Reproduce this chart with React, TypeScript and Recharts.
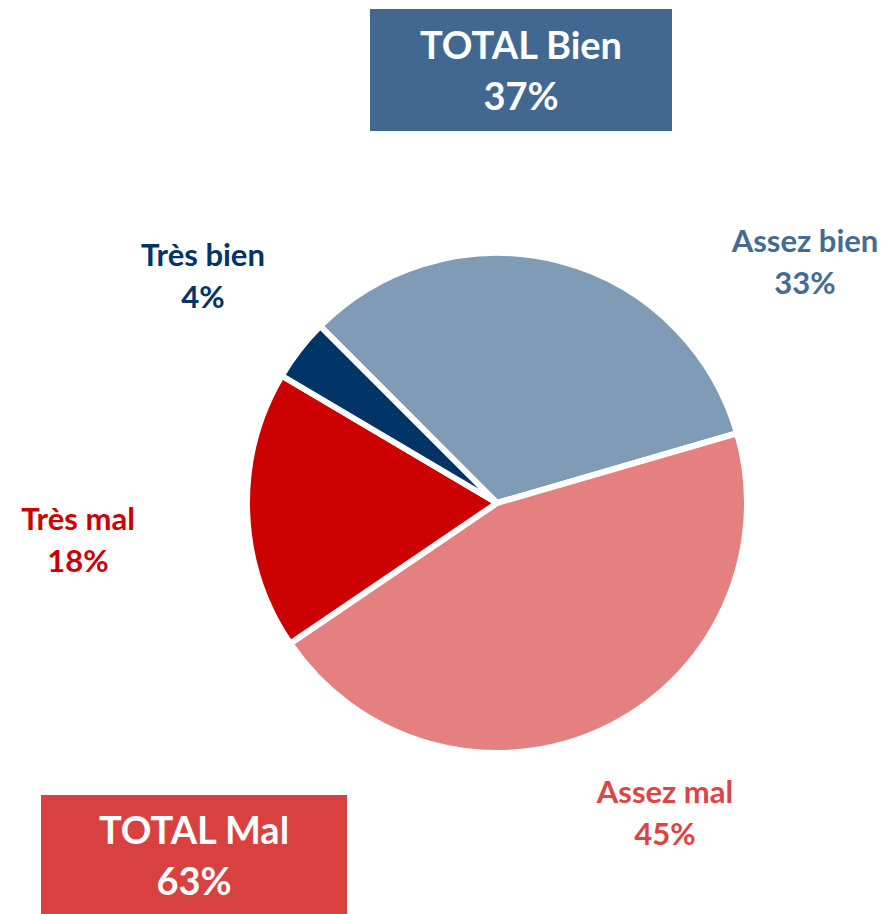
import { PieChart, Pie, Cell } from 'recharts'

const categories = ['Assez bien', 'Assez mal', 'Très mal', 'Très bien']
const values = [33, 45, 18, 4]
const totals = [
  { label: 'TOTAL Bien', value: 37 },
  { label: 'TOTAL Mal', value: 63 },
]

const SLICE_COLORS: Record<string, string> = {
  'Assez bien': '#7f9bb5',
  'Assez mal': '#e48180',
  'Très mal': '#cc0000',
  'Très bien': '#003366',
}
const LABEL_COLORS: Record<string, string> = {
  'Assez bien': '#456b92',
  'Assez mal': '#dc4545',
  'Très mal': '#cc0000',
  'Très bien': '#003366',
}
// label offsets from pie centre (placed by hand in the original)
const LABEL_OFFSET: Record<string, [number, number]> = {
  'Assez bien': [308, -262],
  'Assez mal': [168, 289],
  'Très mal': [-419, 16],
  'Très bien': [-294, -248],
}

const FONT = 'Lato, "Open Sans", sans-serif'

const data = categories.map((name, i) => ({ name, value: values[i] }))

function renderLabel(props: any) {
  const { cx, cy, name, value } = props
  const [dx, dy] = LABEL_OFFSET[name]
  const x = cx + dx
  const y = cy + dy
  return (
    <text
      x={x}
      y={y}
      textAnchor="middle"
      fill={LABEL_COLORS[name]}
      fontFamily={FONT}
      fontWeight={700}
      fontSize={31}
    >
      <tspan x={x} dy="0.35em">{name}</tspan>
      <tspan x={x} dy={42}>{value}%</tspan>
    </text>
  )
}

function TotalBox({ label, value, left, top, width, height, bg }: any) {
  return (
    <div
      style={{
        position: 'absolute',
        left,
        top,
        width,
        height,
        background: bg,
        color: '#fff',
        fontFamily: FONT,
        fontWeight: 700,
        fontSize: 38,
        lineHeight: '51px',
        display: 'flex',
        flexDirection: 'column',
        alignItems: 'center',
        justifyContent: 'center',
        textAlign: 'center',
      }}
    >
      <div>{label}</div>
      <div>{value}%</div>
    </div>
  )
}

export default function App() {
  return (
    <div style={{ position: 'absolute', left: 0, top: 0, width: 885, height: 914, background: '#fff' }}>
      <PieChart width={885} height={914}>
        <Pie
          data={data}
          dataKey="value"
          nameKey="name"
          cx={492}
          cy={498}
          outerRadius={250}
          startAngle={135}
          endAngle={-225}
          stroke="#fff"
          strokeWidth={6}
          label={renderLabel}
          labelLine={false}
          isAnimationActive={false}
        >
          {data.map((d) => (
            <Cell key={d.name} fill={SLICE_COLORS[d.name]} />
          ))}
        </Pie>
      </PieChart>
      <TotalBox label={totals[0].label} value={totals[0].value} left={370} top={9} width={302} height={122} bg="#416890" />
      <TotalBox label={totals[1].label} value={totals[1].value} left={41} top={795} width={306} height={119} bg="#d94141" />
    </div>
  )
}
